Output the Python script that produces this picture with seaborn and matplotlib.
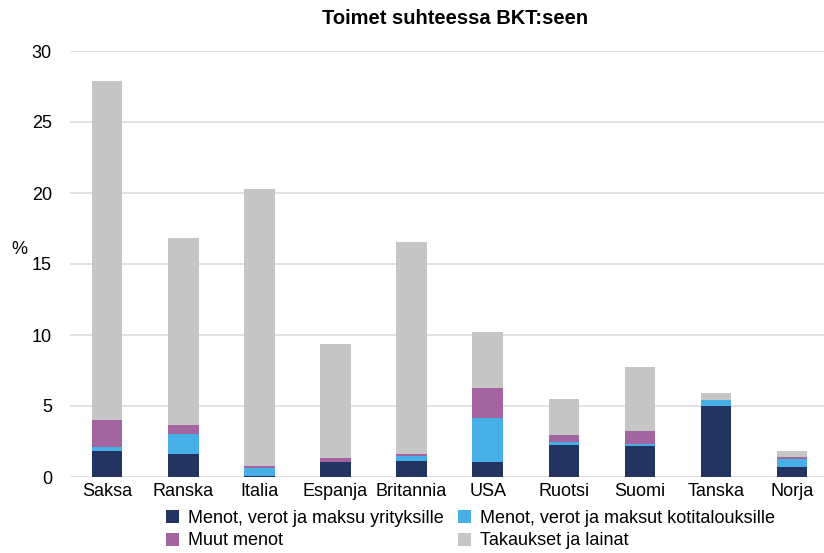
import numpy as np
import pandas as pd
import matplotlib
matplotlib.use("Agg")
import matplotlib.pyplot as plt
import seaborn as sns
from matplotlib.patches import Patch

# --- data (% of GDP) ---
countries = ["Saksa", "Ranska", "Italia", "Espanja", "Britannia",
             "USA", "Ruotsi", "Suomi", "Tanska", "Norja"]
yritykset = [1.85, 1.60, 0.05, 1.05, 1.15, 1.06, 2.28, 2.18, 4.98, 0.70]
kotitaloudet = [0.25, 1.43, 0.55, 0.00, 0.31, 3.07, 0.18, 0.17, 0.42, 0.55]
muut = [1.93, 0.61, 0.15, 0.31, 0.18, 2.17, 0.50, 0.87, 0.05, 0.15]
takaukset = [23.87, 13.16, 19.55, 8.04, 14.91, 3.93, 2.54, 4.50, 0.45, 0.40]

series_names = ["Menot, verot ja maksu yrityksille",
                "Menot, verot ja maksut kotitalouksille",
                "Muut menot",
                "Takaukset ja lainat"]
colors = ["#243461", "#45AFE6", "#A265A0", "#C5C6C5"]
y_ticks = [0, 5, 10, 15, 20, 25, 30]

sns.set_theme(style="white")
plt.rcParams["font.family"] = ["Liberation Sans", "DejaVu Sans"]
plt.rcParams["text.color"] = "black"

df = pd.DataFrame({"maa": countries, "s1": yritykset, "s2": kotitaloudet,
                   "s3": muut, "s4": takaukset})
# cumulative tops for stacking (drawn from the top layer down)
cols = ["s1", "s2", "s3", "s4"]
cum = df[cols].cumsum(axis=1)

fig = plt.figure(figsize=(8.24, 5.53), dpi=100)
ax = fig.add_axes([70 / 824, 1 - 477 / 553, 1 - 70 / 824, (477 - 51) / 553])

for i in reversed(range(4)):
    sns.barplot(x=df["maa"], y=cum[cols[i]], order=countries, color=colors[i],
                saturation=1, width=0.4, linewidth=0, ax=ax, zorder=3)

ax.set_ylim(0, 30)
ax.set_xlim(-0.49, 9.42)
ax.set_yticks(y_ticks)
ax.set_xlabel("")
ax.set_ylabel("")
ax.yaxis.grid(True, color="#DEDEDE", linewidth=1.3, zorder=0)
ax.set_axisbelow(True)
for s in ax.spines.values():
    s.set_visible(False)
ax.tick_params(axis="y", length=0, pad=13, labelsize=13, colors="black")
ax.tick_params(axis="x", length=0, pad=4, labelsize=13, colors="black")

fig.text(455 / 824, 1 - 18 / 553, "Toimet suhteessa BKT:seen", ha="center",
         va="center", fontsize=14.5, fontweight="bold", color="black")
fig.text(19 / 824, 1 - 250 / 553, "%", ha="center", va="center", fontsize=13,
         color="black")

handles = [Patch(facecolor=c, edgecolor="none") for c in colors]
order = [0, 2, 1, 3]
fig.legend([handles[k] for k in order], [series_names[k] for k in order],
           ncol=2, loc="upper left", bbox_to_anchor=(166 / 824, 1 - 510 / 553),
           frameon=False, fontsize=13, handlelength=0.72, handleheight=0.72,
           handletextpad=0.5, columnspacing=0.8, labelspacing=0.3,
           borderpad=0, borderaxespad=0, labelcolor="black")

fig.savefig("out.png", dpi=100)
